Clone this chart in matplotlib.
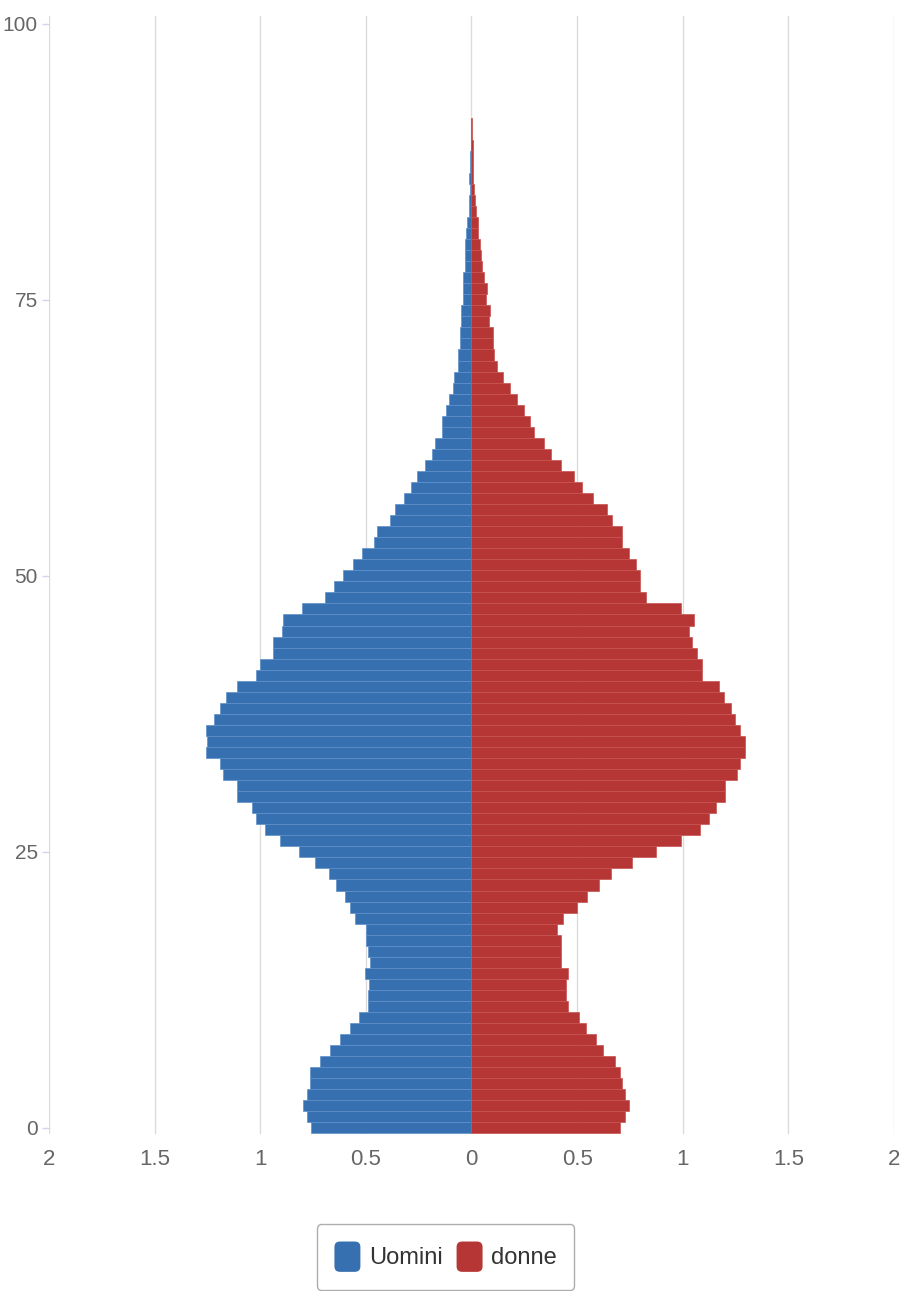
import numpy as np
import matplotlib.pyplot as plt
from matplotlib.patches import Patch, FancyBboxPatch
from matplotlib.legend_handler import HandlerPatch

plt.rcParams['font.family'] = ['Liberation Sans', 'DejaVu Sans']

ages = np.arange(0, 92)
# percentuale della popolazione per anno di eta
uomini = [
    0.759, 0.781, 0.799, 0.781, 0.764, 0.764, 0.717, 0.668, 0.624, 0.577,
    0.531, 0.488, 0.488, 0.486, 0.503, 0.480, 0.488, 0.497, 0.500, 0.551,
    0.575, 0.601, 0.642, 0.675, 0.741, 0.815, 0.907, 0.977, 1.021, 1.038,
    1.112, 1.112, 1.178, 1.192, 1.259, 1.253, 1.259, 1.218, 1.192, 1.162,
    1.112, 1.021, 1.003, 0.939, 0.939, 0.899, 0.892, 0.800, 0.694, 0.650,
    0.607, 0.559, 0.517, 0.462, 0.449, 0.388, 0.362, 0.318, 0.287, 0.257,
    0.222, 0.187, 0.175, 0.140, 0.138, 0.122, 0.106, 0.089, 0.081, 0.065,
    0.065, 0.056, 0.056, 0.049, 0.049, 0.041, 0.038, 0.038, 0.033, 0.030,
    0.030, 0.025, 0.020, 0.012, 0.010, 0.008, 0.010, 0.008, 0.006, 0.0,
    0.0, 0.0]
donne = [
    0.705, 0.727, 0.745, 0.727, 0.713, 0.705, 0.678, 0.622, 0.591, 0.542,
    0.507, 0.458, 0.448, 0.448, 0.458, 0.423, 0.423, 0.423, 0.407, 0.434,
    0.498, 0.547, 0.605, 0.661, 0.762, 0.874, 0.993, 1.080, 1.124, 1.156,
    1.199, 1.199, 1.255, 1.273, 1.295, 1.295, 1.273, 1.246, 1.229, 1.197,
    1.171, 1.089, 1.089, 1.066, 1.042, 1.031, 1.054, 0.993, 0.827, 0.797,
    0.797, 0.778, 0.745, 0.713, 0.713, 0.664, 0.640, 0.573, 0.521, 0.483,
    0.425, 0.376, 0.343, 0.294, 0.276, 0.248, 0.216, 0.181, 0.148, 0.121,
    0.105, 0.100, 0.100, 0.081, 0.089, 0.070, 0.073, 0.057, 0.049, 0.044,
    0.038, 0.033, 0.030, 0.020, 0.015, 0.013, 0.008, 0.007, 0.006, 0.005,
    0.004, 0.004]
x_ticks = [-2, -1.5, -1, -0.5, 0, 0.5, 1, 1.5, 2]
x_labels = ['2', '1.5', '1', '0.5', '0', '0.5', '1', '1.5', '2']
y_ticks = [0, 25, 50, 75, 100]

blue = '#3670b0'
red = '#b53634'

fig = plt.figure(figsize=(9.04, 12.91), dpi=100)
ax = fig.add_axes([0.0542, 0.1216, 0.9347, 0.866])

ax.barh(ages, -np.array(uomini), height=1.0, color=blue,
        edgecolor='#5d8fca', linewidth=0.5, zorder=3)
ax.barh(ages, donne, height=1.0, color=red,
        edgecolor='#c9524f', linewidth=0.5, zorder=3)

ax.set_xlim(-2, 2)
ax.set_ylim(-0.55, 100.7)
ax.set_xticks(x_ticks)
ax.set_xticklabels(x_labels)
ax.set_yticks(y_ticks)
ax.grid(axis='x', color='#dcdcdc', linewidth=1, zorder=0)
for s in ax.spines.values():
    s.set_visible(False)
ax.tick_params(axis='x', length=0, pad=11, labelsize=16, labelcolor='#666666')
ax.tick_params(axis='y', length=5, width=1, color='#ccd6eb', pad=3,
               labelsize=15, labelcolor='#666666')


class RoundHandler(HandlerPatch):
    def create_artists(self, legend, orig_handle, xdescent, ydescent,
                       width, height, fontsize, trans):
        p = FancyBboxPatch((-xdescent, -ydescent), width, height,
                           boxstyle='round,pad=0,rounding_size=4',
                           fc=orig_handle.get_facecolor(), ec='none',
                           transform=trans)
        return [p]


handles = [Patch(color=blue, label='Uomini'), Patch(color=red, label='donne')]
leg = fig.legend(handles=handles, loc='upper center',
                 bbox_to_anchor=(445.5 / 904, 1 - 1212 / 1291),
                 ncol=2, fontsize=17, frameon=True, fancybox=True,
                 handlelength=1.1, handleheight=1.6, handletextpad=0.35,
                 columnspacing=0.6, borderpad=0.75,
                 handler_map={Patch: RoundHandler()})
leg.get_frame().set_edgecolor('#999999')
leg.get_frame().set_linewidth(1.0)
for t in leg.get_texts():
    t.set_color('#333333')

fig.savefig('out.png', dpi=100)
